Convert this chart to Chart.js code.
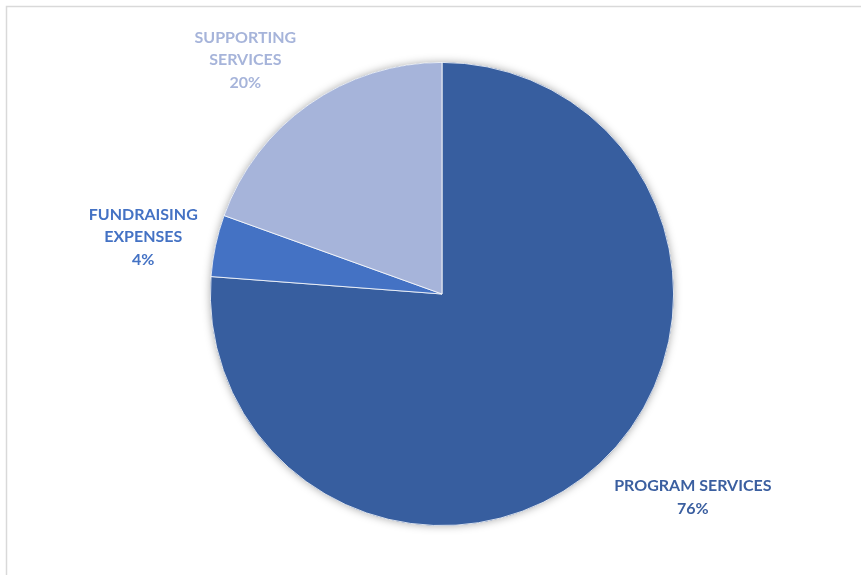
<!DOCTYPE html>
<html>
<head>
<meta charset="utf-8">
<script src="https://cdn.jsdelivr.net/npm/chart.js@4"></script>
<style>
  html, body { margin: 0; padding: 0; background: #ffffff; }
  #wrap { position: relative; width: 861px; height: 575px; }
</style>
</head>
<body>
<div id="wrap"><canvas id="c" width="861" height="575"></canvas></div>
<script>
const categories = ['PROGRAM SERVICES', 'FUNDRAISING EXPENSES', 'SUPPORTING SERVICES'];
const labelLines = [['PROGRAM SERVICES'], ['FUNDRAISING', 'EXPENSES'], ['SUPPORTING', 'SERVICES']];
const values = [76.2, 4.3, 19.5];
const colors = ['#375E9F', '#4472C4', '#A6B4DA'];
const labelColors = ['#3B5FA0', '#4472C4', '#A6B4DA'];

const frame = {
  id: 'frame',
  beforeDraw(chart) {
    const ctx = chart.ctx;
    ctx.save();
    ctx.fillStyle = '#ffffff';
    ctx.fillRect(0, 0, chart.width, chart.height);
    ctx.strokeStyle = '#D9D9D9';
    ctx.lineWidth = 1.5;
    ctx.strokeRect(6.5, 6.5, chart.width + 20, chart.height + 20);
    ctx.restore();
  }
};

const pieShadow = {
  id: 'pieShadow',
  beforeDatasetsDraw(chart) {
    const arc = chart.getDatasetMeta(0).data[0];
    if (!arc) return;
    const ctx = chart.ctx;
    ctx.save();
    ctx.beginPath();
    ctx.arc(arc.x, arc.y, arc.outerRadius, 0, Math.PI * 2);
    ctx.shadowColor = 'rgba(0,0,0,0.35)';
    ctx.shadowBlur = 9;
    ctx.fillStyle = colors[0];
    ctx.fill();
    ctx.restore();
  }
};

// label anchor in units of radius relative to the pie centre
const outsideLabels = {
  id: 'outsideLabels',
  afterDatasetsDraw(chart, args, opts) {
    const meta = chart.getDatasetMeta(0);
    const ctx = chart.ctx;
    const total = values.reduce((a, b) => a + b, 0);
    ctx.save();
    ctx.font = 'bold 16px Lato, "Open Sans", sans-serif';
    ctx.textAlign = 'center';
    ctx.textBaseline = 'middle';
    meta.data.forEach((arc, i) => {
      const pos = opts.anchors[i];
      const cx = arc.x + pos[0] * arc.outerRadius;
      const cy = arc.y + pos[1] * arc.outerRadius;
      const lines = labelLines[i].concat([Math.round(values[i] / total * 100) + '%']);
      const lh = 22.5;
      const y0 = cy - (lines.length - 1) * lh / 2;
      ctx.fillStyle = labelColors[i];
      lines.forEach((t, k) => ctx.fillText(t, cx, y0 + k * lh));
    });
    ctx.restore();
  }
};

new Chart(document.getElementById('c'), {
  type: 'pie',
  data: {
    labels: categories,
    datasets: [{
      data: values,
      backgroundColor: colors,
      borderColor: '#ffffff',
      borderWidth: 0.8
    }]
  },
  options: {
    responsive: false,
    animation: false,
    rotation: 0,
    layout: { padding: { left: 210, right: 187, top: 62, bottom: 49 } },
    plugins: {
      legend: { display: false },
      tooltip: { enabled: false },
      outsideLabels: { anchors: [[1.083, 0.879], [-1.290, -0.246], [-0.849, -1.011]] }
    }
  },
  plugins: [frame, pieShadow, outsideLabels]
});
</script>
</body>
</html>
